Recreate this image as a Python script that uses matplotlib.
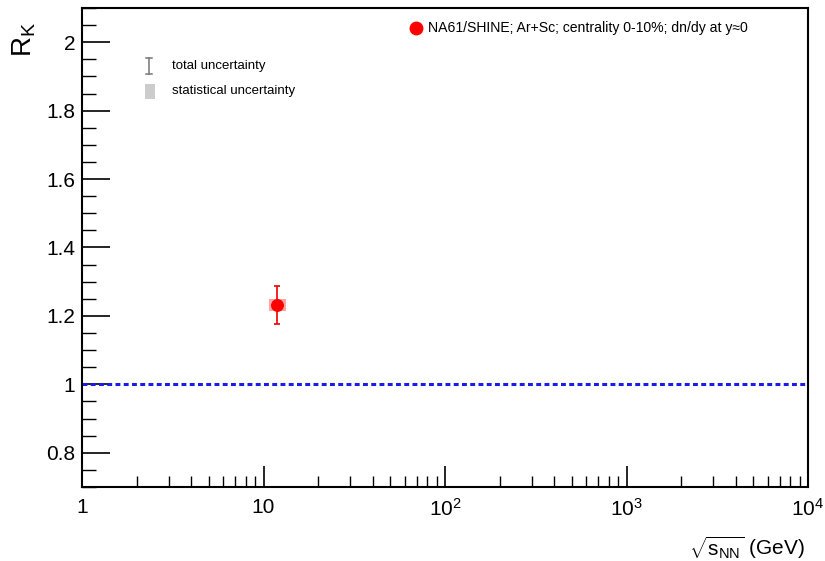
import matplotlib
matplotlib.use("Agg")
import matplotlib.pyplot as plt
from matplotlib.ticker import MultipleLocator, FormatStrFormatter, LogLocator, FixedLocator, FixedFormatter
from matplotlib.patches import Rectangle
from matplotlib.lines import Line2D

plt.rcParams['font.family'] = ['Liberation Sans', 'DejaVu Sans']
plt.rcParams['mathtext.fontset'] = 'custom'
plt.rcParams['mathtext.rm'] = 'Liberation Sans'
plt.rcParams['mathtext.it'] = 'Liberation Sans:italic'
plt.rcParams['mathtext.default'] = 'regular'

# NA61/SHINE Ar+Sc, 0-10% central, kaon ratio R_K at mid-rapidity
sqrt_s = [11.9]
rk = [1.232]
tot_err = [0.056]
stat_err = [0.017]

reference_level = 1.0
x_tick_values = [1, 10, 100, 1000, 10000]
x_tick_labels = ["1", "10", r"$10^{2}$", r"$10^{3}$", r"$10^{4}$"]

fig = plt.figure(figsize=(8.25, 5.61), dpi=100)
ax = fig.add_axes([82/825, 1-487/561, (808-82)/825, (487-8)/561])

ax.set_xscale('log')
ax.set_xlim(1, 1e4)
ax.set_ylim(0.7, 2.1)

# reference line at R_K = 1
ax.axhline(reference_level, color='#1c1ce8', lw=2.2, ls=(0, (1.6, 1.1)), zorder=2)

# statistical uncertainty boxes
box_factor = 1.115
for x, y, s in zip(sqrt_s, rk, stat_err):
    ax.add_patch(Rectangle((x/box_factor, y - s), x*box_factor - x/box_factor, 2*s,
                           facecolor=(1, 0, 0, 0.35), edgecolor='none', zorder=3))

# total uncertainty and central values
ax.errorbar(sqrt_s, rk, yerr=tot_err, fmt='none', ecolor='#ee1111', elinewidth=1.3,
            capsize=2.5, capthick=1.3, zorder=4)
ax.plot(sqrt_s, rk, 'o', color='#ff0000', ms=8.3, mec='#ff0000', zorder=5)

# axes styling
for sp in ax.spines.values():
    sp.set_linewidth(1.5)
ax.yaxis.set_major_locator(MultipleLocator(0.2))
ax.yaxis.set_minor_locator(MultipleLocator(0.05))
ax.yaxis.set_major_formatter(FormatStrFormatter('%g'))
ax.xaxis.set_major_locator(FixedLocator(x_tick_values))
ax.xaxis.set_major_formatter(FixedFormatter(x_tick_labels))
ax.xaxis.set_minor_locator(LogLocator(base=10, subs=range(2, 10), numticks=20))
ax.xaxis.set_minor_formatter(FixedFormatter([]))
ax.tick_params(axis='y', which='major', direction='in', length=20, width=1.2,
               labelsize=15, pad=5, right=False)
ax.tick_params(axis='y', which='minor', direction='in', length=10, width=1.0, right=False)
ax.tick_params(axis='x', which='major', direction='in', length=15, width=1.2,
               labelsize=15, pad=8, top=False)
ax.tick_params(axis='x', which='minor', direction='in', length=8, width=1.0, top=False)

# axis titles
fig.text(805/825, 1-548/561, r"$\sqrt{s_{NN}}$ (GeV)", ha='right', va='center', fontsize=15)
fig.text(24/825, 1-22/561, r"$R_{K}$", rotation=90, ha='center', va='top', fontsize=20)

# legends
ax.plot([0.460], [0.958], 'o', color='#ff0000', ms=9, transform=ax.transAxes, clip_on=False)
ax.text(0.4766, 0.958, "NA61/SHINE; Ar+Sc; centrality 0-10%; dn/dy at y\u22480",
        transform=ax.transAxes, ha='left', va='center', fontsize=10.1)

gx = (149-82)/726
ax.add_line(Line2D([gx, gx], [0.862, 0.8956], color='#777777', lw=1.1, transform=ax.transAxes))
for yy in (0.862, 0.8956):
    ax.add_line(Line2D([gx-0.004, gx+0.004], [yy, yy], color='#777777', lw=1.1,
                       transform=ax.transAxes))
ax.text(0.124, 0.879, "total uncertainty", transform=ax.transAxes, ha='left', va='center',
        fontsize=9.5)
ax.add_patch(Rectangle((0.0868, 0.810), 0.0138, 0.031, facecolor='#cccccc', edgecolor='none',
                       transform=ax.transAxes))
ax.text(0.124, 0.8267, "statistical uncertainty", transform=ax.transAxes, ha='left',
        va='center', fontsize=9.5)

fig.savefig("out.png", dpi=100)
